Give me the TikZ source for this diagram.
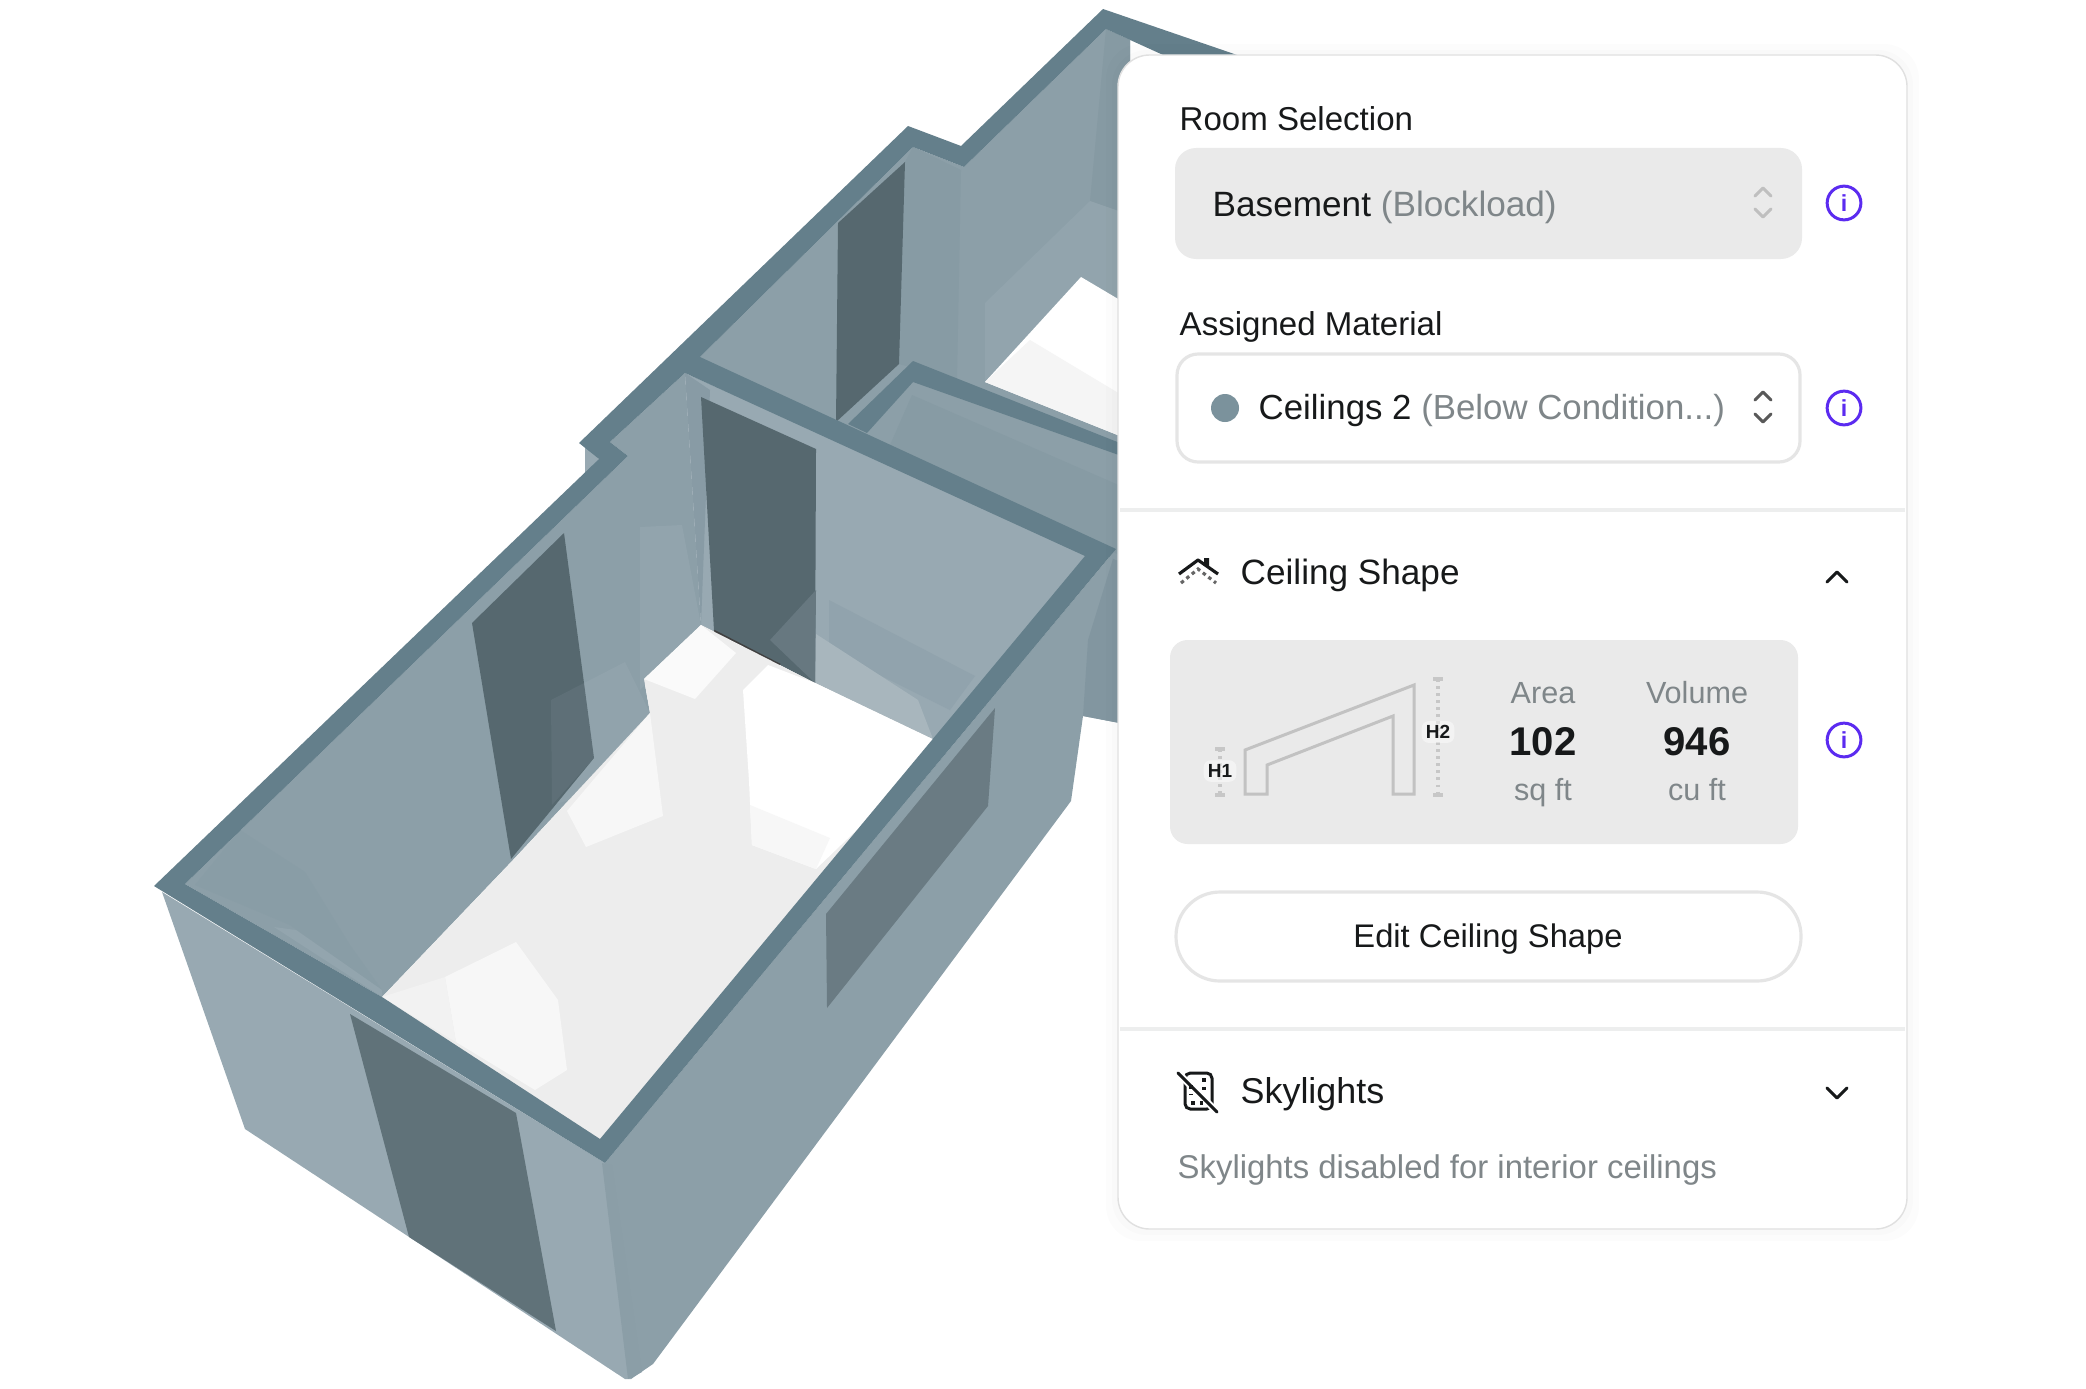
\documentclass[tikz,border=0pt]{standalone}
\usepackage{fontspec}
\setmainfont{Liberation Sans}
\definecolor{band}{HTML}{647F8B}
\definecolor{wallm}{HTML}{8C9FA8}
\definecolor{walll}{HTML}{98A9B2}
\definecolor{walld}{HTML}{8296A0}
\definecolor{doorc}{HTML}{56686F}
\definecolor{soft}{HTML}{EAEAEA}
\definecolor{hint}{HTML}{7F8689}
\definecolor{ink}{HTML}{17191A}
\definecolor{purp}{HTML}{5B2BF0}
\definecolor{line}{HTML}{EDEEEE}
\begin{document}
\begin{tikzpicture}[x=0.01cm,y=-0.01cm]
\tikzstyle{label} = [anchor=base west,inner sep=0pt,text=ink,font=\fontsize{9.4}{12}\selectfont];
\tikzstyle{title} = [anchor=base west,inner sep=0pt,text=ink,font=\fontsize{10}{12}\selectfont];
\tikzstyle{small} = [anchor=base,inner sep=0pt,text=hint,font=\fontsize{8.7}{11}\selectfont];
\tikzstyle{big} = [anchor=base,inner sep=0pt,text=ink,font=\fontsize{11.4}{13}\selectfont\bfseries];
\tikzstyle{tag} = [inner sep=1.2pt,fill=white,fill opacity=0.45,text opacity=1,text=ink,rounded corners=2pt,font=\fontsize{5.4}{6}\selectfont\bfseries];
\tikzstyle{info} = [circle,draw=purp,line width=0.85pt,minimum size=9.6pt,inner sep=0pt,text=purp,font=\fontsize{6.6}{7}\selectfont\bfseries];
\tikzstyle{chev} = [line width=0.85pt,line cap=round,line join=round];
\tikzstyle{dim} = [line width=0.9pt,draw=black!22,dash pattern=on 0.8pt off 1.2pt];
\useasboundingbox (0,0) rectangle (2086,1388);

\fill [wallm] (605,1163) -- (1116,549) -- (1130,549) -- (1130,725) -- (1083,716) -- (1071,801) -- (653,1364) -- (631,1379) -- cycle;
\fill [walld] (1116,549) -- (1130,549) -- (1130,725) -- (1083,716) -- (1088,640) -- cycle;
\fill [walll] (162,892) -- (605,1163) -- (631,1379) -- (625,1379) -- (245,1129) -- cycle;
\fill [walld!60!walll] (602,1163) -- (612,1165) -- (642,1372) -- (628,1379) -- cycle;
\fill [doorc!85!walll] (350,1014) -- (516,1113) -- (556,1331) -- (409,1237) -- cycle;
\fill [doorc!70!walll] (995,708) -- (988,806) -- (827,1008) -- (826,914) -- cycle;
\fill [walll] (585,447) -- (599,459) -- (585,474) -- cycle;

\fill [wallm] (700,370) -- (700,357) -- (913,147) -- (964,167) -- (1106,29) -- (1130,40) -- (1130,560) -- (1116,560) -- cycle;
\fill [walld!60!wallm] (1106,29) -- (1130,40) -- (1130,215) -- (1090,201) -- cycle;
\fill [walll!50!wallm] (985,303) -- (1090,201) -- (1130,215) -- (1130,310) -- (1081,277) -- (985,382) -- cycle;
\fill [walld!50!wallm] (913,147) -- (961,170) -- (957,380) -- (899,364) -- (905,162) -- cycle;
\fill [white] (1081,277) -- (1130,306) -- (1130,440) -- (985,382) -- cycle;
\fill [black!4] (985,382) -- (1030,340) -- (1130,400) -- (1130,440) -- cycle;
\fill [doorc] (905,162) -- (899,364) -- (836,422) -- (838,223) -- cycle;

\fill [wallm] (867,433) -- (913,382) -- (1130,459) -- (1130,560) -- cycle;
\fill [walld!50!wallm] (912,395) -- (1130,490) -- (1130,560) -- (890,445) -- cycle;

\fill [wallm] (185,884) -- (628,456) -- (610,442) -- (685,373) -- (701,625) -- (644,679) -- (650,713) -- (513,860) -- (382,997) -- cycle;
\fill [walld!25!wallm] (240,830) -- (305,872) -- (350,945) -- (382,990) -- (290,925) -- (195,885) -- cycle;
\fill [walll!60!wallm] (274,927) -- (296,930) -- (382,990) -- (382,997) -- cycle;
\fill [walll!40!wallm] (551,700) -- (625,662) -- (650,713) -- (584,796) -- (552,805) -- cycle;
\fill [doorc] (564,533) -- (594,758) -- (511,859) -- (472,623) -- cycle;
\fill [walll,opacity=0.12] (551,700) -- (590,680) -- (594,758) -- (552,805) -- cycle;
\fill [walll] (685,373) -- (1095,556) -- (940,745) -- (701,625) -- cycle;
\fill [walld!40!wallm] (685,373) -- (710,390) -- (701,625) -- cycle;
\fill [walll!50!wallm] (640,527) -- (682,525) -- (701,625) -- (640,690) -- cycle;
\fill [walld!30!walll] (829,600) -- (975,676) -- (950,710) -- (829,650) -- cycle;
\fill [walll!85!white] (816,634) -- (918,700) -- (933,739) -- (815,683) -- cycle;
\fill [doorc] (701,397) -- (816,449) -- (815,683) -- (714,631) -- cycle;
\fill [walll!25!doorc] (770,640) -- (816,590) -- (815,683) -- cycle;
\draw [black!75,line width=0.7pt] (714,631) -- (780,665);

\fill [black!7] (382,997) -- (513,860) -- (650,713) -- (644,679) -- (701,625) -- (815,683) -- (945,745) -- (606,1150) -- cycle;
\fill [black!3] (445,977) -- (516,942) -- (558,1000) -- (567,1070) -- (535,1090) -- (456,1042) -- cycle;
\fill [black!5] (382,997) -- (445,977) -- (456,1042) -- cycle;
\fill [white] (743,690) -- (768,665) -- (815,683) -- (945,745) -- (816,869) -- (752,845) -- (749,781) -- cycle;
\fill [black!3] (750,805) -- (830,838) -- (816,869) -- (752,845) -- cycle;
\fill [black!3] (650,713) -- (663,816) -- (586,847) -- (567,811) -- cycle;
\fill [black!2] (701,625) -- (736,653) -- (695,699) -- (644,679) -- cycle;

\fill [band,even odd rule] (154,886) -- (599,459) -- (579,443) -- (908,126) -- (961,146) -- (1103,9) -- (1240,56) -- (1240,90) -- (1106,29) -- (964,167) -- (913,147) -- (700,357) -- (1116,549) -- (605,1163) -- cycle
  (185,884) -- (382,997) -- (600,1139) -- (1085,556) -- (685,373) -- (610,442) -- (628,456) -- cycle;
\fill [band] (848,424) -- (913,361) -- (1130,447) -- (1130,459) -- (913,382) -- (867,433) -- cycle;

\fill [black,opacity=0.012,rounded corners=10pt] (1106,44) rectangle (1919,1241);
\fill [black,opacity=0.012,rounded corners=10pt] (1112,50) rectangle (1913,1235);
\draw [rounded corners=9pt,draw=black!12,line width=0.4pt,fill=white] (1118,55) rectangle (1907,1229);
\draw [line,line width=0.9pt] (1120,510) -- (1905,510);
\draw [line,line width=0.9pt] (1120,1029) -- (1905,1029);

\node [label] (roomsel) at (1179,131) {Room Selection};
\fill [soft,rounded corners=6pt] (1175,148) rectangle (1802,259);
\node [title] (basement) at (1212,216) {Basement {\color{hint}(Blockload)}};
\draw [chev,black!25] (1755,196) -- (1763,188) -- (1771,196);
\draw [chev,black!25] (1755,209) -- (1763,217) -- (1771,209);
\node [info] (info1) at (1844,203) {i};

\node [label] (material) at (1179,335) {Assigned Material};
\draw [black!10,rounded corners=6pt,line width=0.9pt] (1177,354) rectangle (1800,462);
\fill [band!85!white] (1225,408) circle (14);
\node [title,font=\fontsize{9.9}{12}\selectfont] (ceilings) at (1258,419) {Ceilings 2 {\color{hint}(Below Condition...)}};
\draw [chev,black!65] (1755,400) -- (1763,392) -- (1771,400);
\draw [chev,black!65] (1755,414) -- (1763,422) -- (1771,414);
\node [info] (info2) at (1844,408) {i};

\draw [line width=0.9pt,ink,line join=round] (1179,574) -- (1198,560) -- (1218,574);
\fill [ink] (1204,564) -- (1204,558) -- (1209,558) -- (1209,568) -- cycle;
\draw [line width=0.9pt,black!60,dash pattern=on 1pt off 1pt] (1181,583) -- (1198,569) -- (1216,583);
\node [title] (ceilshape) at (1240,584) {Ceiling Shape};
\draw [chev,ink] (1827,582) -- (1837,572) -- (1847,582);

\fill [soft,rounded corners=5pt] (1170,640) rectangle (1798,844);
\draw [black!24,line width=0.85pt,line join=miter] (1245,750) -- (1414,685) -- (1414,794) -- (1393,794) -- (1393,716) -- (1267,765) -- (1267,794) -- (1245,794) -- cycle;
\draw [dim] (1220,749) -- (1220,795);
\draw [dim,dash pattern=] (1215,749) -- (1225,749);
\draw [dim,dash pattern=] (1215,795) -- (1225,795);
\draw [dim] (1438,679) -- (1438,795);
\draw [dim,dash pattern=] (1433,679) -- (1443,679);
\draw [dim,dash pattern=] (1433,795) -- (1443,795);
\node [tag] (h1) at (1220,771) {H1};
\node [tag] (h2) at (1438,732) {H2};
\node [small] (area) at (1543,703) {Area};
\node [big] (areaval) at (1543,755) {102};
\node [small] (areaunit) at (1543,800) {sq ft};
\node [small] (volume) at (1697,703) {Volume};
\node [big] (volval) at (1697,755) {946};
\node [small] (volunit) at (1697,800) {cu ft};
\node [info] (info3) at (1844,740) {i};

\draw [black!10,rounded corners=12.5pt,line width=0.9pt] (1176,892) rectangle (1801,981);
\node [label,anchor=base,font=\fontsize{9.3}{12}\selectfont] (edit) at (1488,947) {Edit Ceiling Shape};

\draw [ink,line width=0.85pt,rounded corners=1.5pt] (1185,1073) rectangle (1212,1109);
\draw [white,line width=2pt] (1178,1073) -- (1217,1112);
\draw [ink,line width=0.85pt,line cap=round] (1178,1073) -- (1217,1112);
\draw [ink,line width=1pt,dash pattern=on 1pt off 1.5pt] (1204,1078) -- (1204,1095);
\draw [ink,line width=1pt,dash pattern=on 1pt off 1.5pt] (1191,1103) -- (1204,1103);
\draw [ink,line width=1pt,dash pattern=on 1pt off 1.5pt] (1191,1085) -- (1191,1094);
\node [title,font=\fontsize{10.2}{12}\selectfont] (skylights) at (1240,1103) {Skylights};
\draw [chev,ink] (1827,1088) -- (1837,1098) -- (1847,1088);
\node [label,text=hint,font=\fontsize{9.35}{12}\selectfont] (skynote) at (1177,1178) {Skylights disabled for interior ceilings};
\end{tikzpicture}
\end{document}
